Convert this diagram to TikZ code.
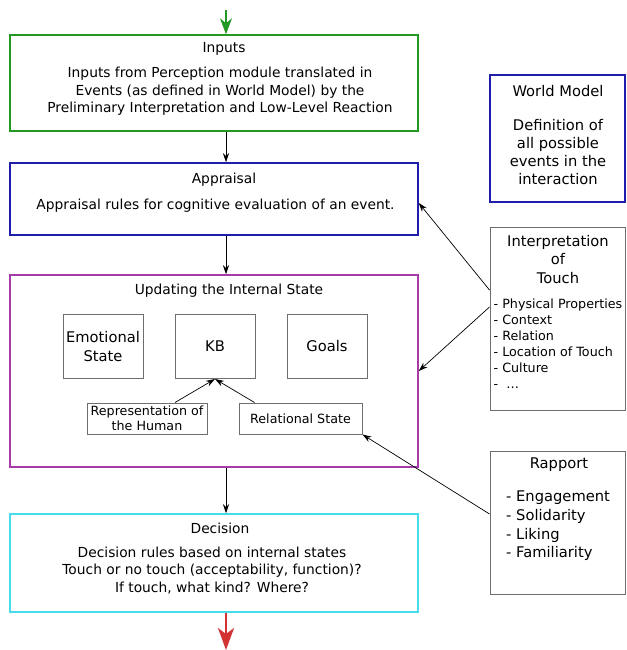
\documentclass[tikz,border=0pt]{standalone}
\usepackage{fontspec}
\setmainfont{DejaVu Sans}
\usetikzlibrary{arrows.meta,calc}

\definecolor{ingreen}{RGB}{34,153,34}
\definecolor{apblue}{RGB}{30,30,170}
\definecolor{uppurple}{RGB}{165,60,170}
\definecolor{decyan}{RGB}{70,220,235}
\definecolor{outred}{RGB}{210,50,50}
\definecolor{partgray}{RGB}{110,110,110}

\newcommand{\smallsize}{\fontsize{12.7pt}{15pt}\selectfont}
\newcommand{\mainsize}{\fontsize{13.8pt}{17.5pt}\selectfont}
\newcommand{\largesize}{\fontsize{14.7pt}{18.3pt}\selectfont}

\begin{document}
\begin{tikzpicture}[x = 1pt, y = -1pt,
    block/.style = {draw, line width = 1.5pt, inner sep = 0pt},
    part/.style = {draw = partgray, line width = 1pt, inner sep = 0pt},
    txt/.style = {inner sep = 0pt, align = center, font = \mainsize},
    link/.style = {-{Stealth[length = 9pt, width = 6pt, inset = 3pt]}, line width = 0.7pt},
    flowin/.style = {-{Stealth[length = 16pt, width = 12pt, inset = 5pt]}, line width = 1.4pt},
    flowout/.style = {-{Stealth[length = 22pt, width = 16pt, inset = 6pt]}, line width = 2pt}]
    \useasboundingbox (0,0) rectangle (626,650);
    % main column
    \node[block, draw = ingreen, minimum width = 408pt, minimum height = 96pt] (I) at (214,83) {};
    \node[block, draw = apblue, minimum width = 408pt, minimum height = 72pt] (A) at (214,199) {};
    \node[block, draw = uppurple, minimum width = 408pt, minimum height = 192pt] (U) at (214,371) {};
    \node[block, draw = decyan, minimum width = 408pt, minimum height = 98pt] (D) at (214,563) {};
    \node[txt] (It) at (224,48.5) {Inputs};
    \node[txt] (Ib) at (220,91.5) {Inputs from Perception module translated in\\
        Events (as defined in World Model) by the\\
        Preliminary Interpretation and Low-Level Reaction};
    \node[txt] (At) at (224,179.5) {Appraisal};
    \node[txt] (Ab) at (215.5,205.5) {Appraisal rules for cognitive evaluation of an event.};
    \node[txt] (Ut) at (229,290.5) {Updating the Internal State};
    \node[txt] (Dt) at (220,528.5) {Decision};
    \node[txt] (Db) at (212,570.5) {Decision rules based on internal states\\
        Touch or no touch (acceptability, function)?\\
        If touch, what kind? Where?};
    % internal state
    \node[part, minimum width = 80pt, minimum height = 64pt, font = \largesize, align = center] (E) at (103,346.5) {Emotional\\State};
    \node[part, minimum width = 80pt, minimum height = 64pt, font = \largesize] (K) at (215,346.5) {KB};
    \node[part, minimum width = 80pt, minimum height = 64pt, font = \largesize] (G) at (327,346.5) {Goals};
    \node[part, minimum width = 120pt, minimum height = 31pt, font = \smallsize, align = center] (H) at (147,418.5) {Representation of\\the Human};
    \node[part, minimum width = 123pt, minimum height = 31pt, font = \smallsize] (S) at (300.5,418.5) {Relational State};
    % side boxes
    \node[block, draw = apblue, minimum width = 135pt, minimum height = 127pt] (W) at (557.5,138.5) {};
    \node[part, minimum width = 135pt, minimum height = 183pt] (T) at (557.5,318.5) {};
    \node[part, minimum width = 135pt, minimum height = 143pt] (R) at (557.5,522.5) {};
    \node[txt, font = \largesize] (Wt) at (558,91) {World Model};
    \node[txt, font = \largesize] (Wb) at (558,152) {Definition of\\all possible\\events in the\\interaction};
    \node[txt, font = \largesize] (Tt) at (558,259.5) {Interpretation\\of\\Touch};
    \node[txt, font = \fontsize{12.7pt}{16pt}\selectfont, align = left, anchor = west] (Tb) at (493.5,343.5)
        {- Physical Properties\\- Context\\- Relation\\- Location of Touch\\- Culture\\-~~\ldots};
    \node[txt, font = \largesize] (Rt) at (559,465) {Rapport};
    \node[txt, font = \fontsize{14.7pt}{18.7pt}\selectfont, align = left, anchor = west] (Rb) at (506,526)
        {- Engagement\\- Solidarity\\- Liking\\- Familiarity};
    % connectors
    \coordinate (in) at (226,10);
    \coordinate (out) at (226,650);
    \draw[flowin, ingreen] (in) -- (in |- I.north);
    \draw[link] (I.south -| in) -- (A.north -| in);
    \draw[link] (A.south -| in) -- (U.north -| in);
    \draw[link] (U.south -| in) -- (D.north -| in);
    \draw[flowout, outred] (D.south -| out) -- (out);
    \draw[link] ($(H.north) + (28,0)$) -- (K.south);
    \draw[link] ($(S.north west) + (16,0)$) -- (K.south);
    \draw[link] ($(T.west) + (0,-28.5)$) -- ($(A.east) + (0,4)$);
    \draw[link] ($(T.west) + (0,-11.5)$) -- (U.east);
    \draw[link] ($(R.west) + (0,-8.5)$) -- (S.south east);
\end{tikzpicture}
\end{document}
